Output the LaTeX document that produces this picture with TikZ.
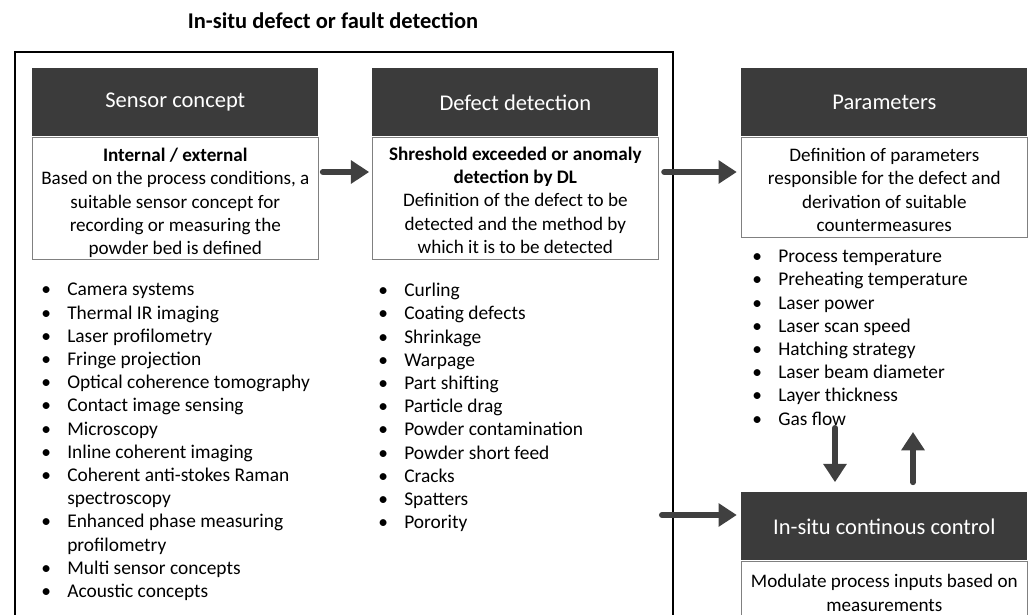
\documentclass[tikz,border=0pt]{standalone}
\usepackage{fontspec}
\setmainfont{Carlito}
\usetikzlibrary{arrows.meta}

\definecolor{headgray}{HTML}{3B3B3B}
\definecolor{arrowgray}{HTML}{404040}

\newcommand\bi{\makebox[0.65cm][l]{\textbullet}}
\newcommand\bc{\hspace*{0.65cm}}

\tikzset{
  head/.style={fill=headgray, text=white, minimum width=7.15cm, minimum height=1.7cm,
    anchor=north west, inner sep=0pt, font=\fontsize{16}{19}\selectfont},
  body/.style={draw=gray, fill=white, text width=7.0cm, align=flush center, anchor=north west,
    inner xsep=0.075cm, inner ysep=0pt, font=\fontsize{13.6}{16.6}\selectfont},
  blist/.style={anchor=north west, align=left, inner sep=0pt, font=\fontsize{13.8}{16.5}\selectfont},
  bigarrow/.style={draw=arrowgray, line width=4.3pt, line cap=round,
    -{Triangle[length=13pt,width=16pt]}},
}

\begin{document}
\begin{tikzpicture}[x=0.025cm, y=-0.025cm]
\clip (0,0) rectangle (1032,614);

\node[font=\bfseries\fontsize{16}{18}\selectfont] (title) at (333,21) {In-situ defect or fault detection};
\draw[line width=1.4pt] (15,640) -- (15,52) -- (673,52) -- (673,640);

% sensor concept
\node[head] (senhead) at (32,68) {Sensor concept};
\node[body, minimum height=3.05cm] (senbody) at (senhead.south west)
  {\rule{0pt}{17pt}\textbf{Internal / external}\\ Based on the process conditions, a\\ suitable sensor concept for\\
   recording or measuring the\\ powder bed is defined};
\node[blist] (senlist) at (41,283) {\bi Camera systems\\ \bi Thermal IR imaging\\ \bi Laser profilometry\\
  \bi Fringe projection\\ \bi Optical coherence tomography\\ \bi Contact image sensing\\ \bi Microscopy\\
  \bi Inline coherent imaging\\ \bi Coherent anti-stokes Raman\\ \bc spectroscopy\\
  \bi Enhanced phase measuring\\ \bc profilometry\\ \bi Multi sensor concepts\\ \bi Acoustic concepts};

% defect detection
\node[head] (defhead) at (372,68) {Defect detection};
\node[body, minimum height=3.05cm] (defbody) at (defhead.south west)
  {\rule{0pt}{13pt}\textbf{Shreshold exceeded or anomaly}\\ \textbf{detection by DL}\\ Definition of the defect to be\\
   detected and the method by\\ which it is to be detected};
\node[blist] (deflist) at (378,283) {\bi Curling\\ \bi Coating defects\\ \bi Shrinkage\\ \bi Warpage\\
  \bi Part shifting\\ \bi Particle drag\\ \bi Powder contamination\\ \bi Powder short feed\\
  \bi Cracks\\ \bi Spatters\\ \bi Porority};

% parameters
\node[head] (parhead) at (741,68) {Parameters};
\node[body, minimum height=2.5cm] (parbody) at (parhead.south west)
  {\rule{0pt}{14pt}Definition of parameters\\ responsible for the defect and\\ derivation of suitable\\ countermeasures};
\node[blist] (parlist) at (752,250) {\bi Process temperature\\ \bi Preheating temperature\\ \bi Laser power\\
  \bi Laser scan speed\\ \bi Hatching strategy\\ \bi Laser beam diameter\\ \bi Layer thickness\\ \bi Gas flow};

% control
\node[head] (ctlhead) at (741,492) {In-situ continous control};
\node[body, minimum height=1.6cm] (ctlbody) at (ctlhead.south west)
  {Modulate process inputs based on\\ measurements};

% arrows
\coordinate (row) at (0,172);
\coordinate (ctlstart) at (662,515);
\coordinate (downstart) at (835,428);
\coordinate (upend) at (913,432);
\draw[bigarrow, shorten <=3pt, shorten >=2pt] (senbody.east |- row) -- (defbody.west |- row);
\draw[bigarrow, shorten <=4pt, shorten >=3pt] (defbody.east |- row) -- (parbody.west |- row);
\draw[bigarrow, shorten >=3pt] (ctlstart) -- (ctlhead.west |- ctlstart);
\draw[bigarrow, shorten >=7pt] (downstart) -- (ctlhead.north -| downstart);
\draw[bigarrow, shorten <=7pt] (ctlhead.north -| upend) -- (upend);
\end{tikzpicture}
\end{document}
